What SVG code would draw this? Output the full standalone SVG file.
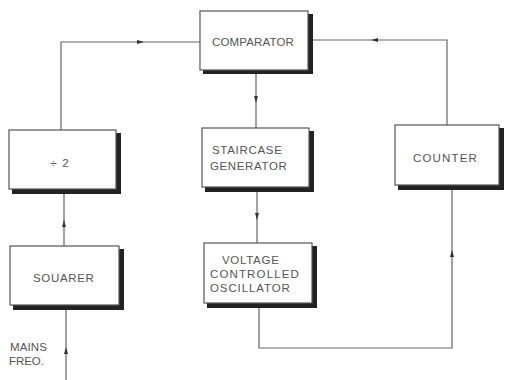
<svg xmlns="http://www.w3.org/2000/svg" width="505" height="380" viewBox="0 0 505 380">
<defs>
<style>
.sh{fill:#222}
.bx{fill:#fff;stroke:#555;stroke-width:1.2}
.t{font-family:"Liberation Sans",Arial,sans-serif;font-size:11.5px;fill:#555;letter-spacing:1.2px}
.c{stroke:#666;stroke-width:1.2;fill:none}
.ah{fill:#333}
</style>
</defs>
<rect width="505" height="380" fill="#fff"/>
<g id="connectors">
<path class="c" d="M200,42 H61 V130"/>
<path class="c" d="M312,40 H447 V125"/>
<path class="c" d="M256,73 V128"/>
<path class="c" d="M64,193 V246"/>
<path class="c" d="M257,191 V243"/>
<path class="c" d="M452,189 V348 H259 V307"/>
<path class="c" d="M66,309 V380"/>
<path class="ah" d="M137,40 L144,42 L137,44 Z"/>
<path class="ah" d="M378,38 L371,40 L378,42 Z"/>
<path class="ah" d="M254,96 L256,103 L258,96 Z"/>
<path class="ah" d="M62,227 L64,220 L66,227 Z"/>
<path class="ah" d="M255,213 L257,220 L259,213 Z"/>
<path class="ah" d="M450,257 L452,250 L454,257 Z"/>
<path class="ah" d="M64,354 L66,347 L68,354 Z"/>
</g>
<g id="comparator">
<rect class="sh" x="203" y="14" width="110" height="60"/>
<rect class="bx" x="200" y="11" width="108" height="59"/>
<text class="t" x="212" y="46" textLength="83" lengthAdjust="spacing">COMPARATOR</text>
</g>
<g id="div2">
<rect class="sh" x="12" y="133" width="109" height="61"/>
<rect class="bx" x="9" y="130" width="107" height="59"/>
<text class="t" x="60" y="167" text-anchor="middle">÷ 2</text>
</g>
<g id="staircase">
<rect class="sh" x="205" y="131" width="109" height="61"/>
<rect class="bx" x="202" y="128" width="107" height="59"/>
<text class="t" x="212" y="154" textLength="71" lengthAdjust="spacing">STAIRCASE</text>
<text class="t" x="210" y="170" textLength="78" lengthAdjust="spacing">GENERATOR</text>
</g>
<g id="counter">
<rect class="sh" x="398" y="128" width="106" height="62"/>
<rect class="bx" x="395" y="125" width="104" height="60"/>
<text class="t" x="413" y="162" textLength="65" lengthAdjust="spacing">COUNTER</text>
</g>
<g id="squarer">
<rect class="sh" x="13" y="249" width="111" height="61"/>
<rect class="bx" x="10" y="246" width="109" height="59"/>
<text class="t" x="33" y="282" textLength="62" lengthAdjust="spacing">SOUARER</text>
</g>
<g id="vco">
<rect class="sh" x="207" y="246" width="110" height="62"/>
<rect class="bx" x="204" y="243" width="108" height="60"/>
<text class="t" x="222" y="264" textLength="58" lengthAdjust="spacing">VOLTAGE</text>
<text class="t" x="210" y="278" textLength="90" lengthAdjust="spacing">CONTROLLED</text>
<text class="t" x="210" y="292" textLength="81" lengthAdjust="spacing">OSCILLATOR</text>
</g>
<g id="mains-label">
<text class="t" x="10" y="351" textLength="38" lengthAdjust="spacing">MAINS</text>
<text class="t" x="9" y="365" textLength="36" lengthAdjust="spacing">FREO.</text>
</g>
</svg>
